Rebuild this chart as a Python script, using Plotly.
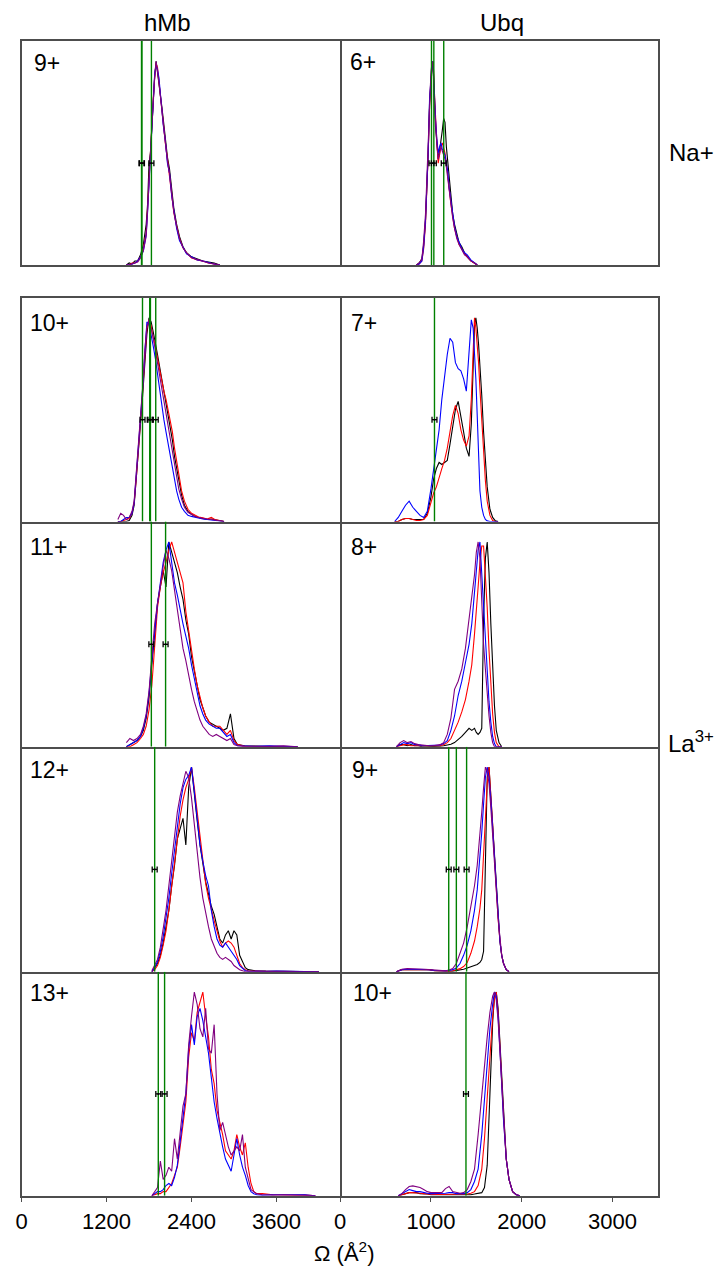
import plotly.graph_objects as go

# ---------------------------------------------------------------------------
# CCS distributions (normalised intensity) for hMb and Ubq charge states.
# Each panel shares one Omega grid (Å^2) between its traces.
# ---------------------------------------------------------------------------

# hMb 9+ (Na+)
HMB9_OMEGA = [1480, 1520, 1560, 1600, 1640, 1680, 1720, 1760, 1780, 1800, 1820, 1840,
              1860, 1880, 1900, 1920, 1940, 1960, 1980, 2000, 2030, 2060, 2090, 2120,
              2150, 2190, 2230, 2280, 2330, 2400, 2480, 2560, 2640, 2720, 2800]
HMB9_BLACK = [0, 0.01, 0.005, 0.02, 0.02, 0.05, 0.1, 0.2, 0.3, 0.5, 0.55, 0.7,
              0.85, 0.93, 1.0, 0.95, 0.9, 0.85, 0.78, 0.72, 0.62, 0.53, 0.47, 0.38,
              0.28, 0.2, 0.14, 0.09, 0.06, 0.04, 0.03, 0.02, 0.015, 0.01, 0]
HMB9_RED = [0, 0, 0.01, 0.01, 0.02, 0.04, 0.08, 0.16, 0.28, 0.42, 0.58, 0.68,
            0.82, 0.92, 0.99, 0.97, 0.9, 0.84, 0.76, 0.7, 0.6, 0.52, 0.44, 0.35,
            0.26, 0.19, 0.13, 0.085, 0.06, 0.035, 0.025, 0.02, 0.01, 0.005, 0]
HMB9_BLUE = [0, 0, 0.005, 0.01, 0.02, 0.04, 0.07, 0.15, 0.26, 0.4, 0.56, 0.7,
             0.8, 0.94, 0.98, 0.96, 0.92, 0.82, 0.77, 0.69, 0.61, 0.5, 0.45, 0.34,
             0.27, 0.18, 0.12, 0.09, 0.055, 0.04, 0.025, 0.02, 0.012, 0.005, 0]
HMB9_PURPLE = [0, 0, 0.005, 0.01, 0.015, 0.035, 0.07, 0.14, 0.25, 0.4, 0.55, 0.68,
               0.83, 0.92, 1.0, 0.96, 0.9, 0.83, 0.76, 0.7, 0.6, 0.51, 0.45, 0.35,
               0.26, 0.19, 0.13, 0.085, 0.06, 0.035, 0.025, 0.018, 0.01, 0.005, 0]
HMB9_REF = [1694, 1700, 1834]

# Ubq 6+ (Na+)
UBQ6_OMEGA = [840, 870, 900, 920, 940, 955, 970, 985, 1000, 1015, 1025, 1035,
              1050, 1065, 1080, 1095, 1110, 1125, 1140, 1155, 1170, 1185, 1200, 1220,
              1240, 1260, 1285, 1310, 1340, 1370, 1400, 1440, 1480, 1510]
UBQ6_BLACK = [0, 0.01, 0.03, 0.1, 0.22, 0.38, 0.55, 0.8, 0.9, 0.98, 1.0, 0.86,
              0.68, 0.6, 0.52, 0.56, 0.6, 0.66, 0.72, 0.7, 0.58, 0.5, 0.42, 0.33,
              0.25, 0.2, 0.15, 0.11, 0.09, 0.06, 0.04, 0.02, 0.01, 0]
UBQ6_RED = [0, 0.005, 0.02, 0.08, 0.2, 0.36, 0.55, 0.78, 0.92, 0.97, 0.99, 0.88,
            0.7, 0.6, 0.5, 0.55, 0.58, 0.6, 0.58, 0.55, 0.5, 0.45, 0.38, 0.3,
            0.24, 0.18, 0.14, 0.1, 0.08, 0.055, 0.04, 0.02, 0.008, 0]
UBQ6_BLUE = [0, 0.005, 0.02, 0.09, 0.22, 0.38, 0.56, 0.82, 0.94, 1.0, 0.97, 0.85,
             0.72, 0.62, 0.55, 0.58, 0.6, 0.57, 0.55, 0.54, 0.5, 0.46, 0.38, 0.31,
             0.24, 0.19, 0.14, 0.11, 0.08, 0.06, 0.05, 0.025, 0.01, 0]
UBQ6_PURPLE = [0, 0.01, 0.03, 0.12, 0.25, 0.42, 0.6, 0.84, 0.95, 1.0, 0.96, 0.82,
               0.68, 0.6, 0.52, 0.55, 0.58, 0.56, 0.54, 0.52, 0.48, 0.42, 0.36, 0.3,
               0.23, 0.18, 0.13, 0.1, 0.075, 0.05, 0.04, 0.02, 0.01, 0]
UBQ6_REF = [1006, 1032, 1141]

# hMb 10+ (La3+)
HMB10_OMEGA = [1360, 1400, 1440, 1480, 1520, 1560, 1590, 1620, 1650, 1680, 1710, 1740,
               1770, 1800, 1830, 1860, 1890, 1920, 1950, 1980, 2010, 2040, 2070, 2100,
               2130, 2160, 2190, 2220, 2260, 2300, 2350, 2400, 2450, 2500, 2560, 2620,
               2680, 2740, 2800, 2860]
HMB10_BLACK = [0, 0, 0, 0, 0.005, 0.03, 0.08, 0.2, 0.33, 0.48, 0.62, 0.78,
               0.92, 1.0, 0.98, 0.93, 0.88, 0.82, 0.76, 0.7, 0.66, 0.58, 0.52, 0.47,
               0.4, 0.32, 0.26, 0.19, 0.13, 0.08, 0.05, 0.035, 0.025, 0.02, 0.015, 0.01,
               0.012, 0.008, 0.005, 0]
HMB10_RED = [0, 0, 0.005, 0.01, 0.015, 0.04, 0.09, 0.21, 0.34, 0.5, 0.64, 0.8,
             0.95, 0.99, 0.96, 0.9, 0.86, 0.8, 0.74, 0.68, 0.64, 0.6, 0.55, 0.5,
             0.44, 0.36, 0.3, 0.22, 0.15, 0.1, 0.06, 0.04, 0.03, 0.022, 0.018, 0.012,
             0.02, 0.008, 0.005, 0]
HMB10_BLUE = [0, 0, 0.01, 0.02, 0.02, 0.04, 0.09, 0.22, 0.35, 0.5, 0.65, 0.82,
              0.98, 0.97, 0.92, 0.86, 0.8, 0.72, 0.64, 0.56, 0.5, 0.44, 0.38, 0.32,
              0.26, 0.2, 0.15, 0.11, 0.07, 0.05, 0.03, 0.025, 0.02, 0.015, 0.012, 0.01,
              0.008, 0.005, 0.003, 0]
HMB10_PURPLE = [0.01, 0.04, 0.03, 0.01, 0.02, 0.05, 0.1, 0.23, 0.36, 0.52, 0.66, 0.84,
                0.96, 0.99, 0.95, 0.9, 0.84, 0.78, 0.7, 0.64, 0.58, 0.52, 0.47, 0.42,
                0.35, 0.28, 0.22, 0.16, 0.11, 0.07, 0.045, 0.035, 0.025, 0.02, 0.015, 0.012,
                0.01, 0.006, 0.004, 0]
HMB10_REF = [1708, 1810, 1820, 1895]

# Ubq 7+ (La3+), no purple trace
UBQ7_OMEGA = [600, 640, 680, 720, 760, 800, 840, 880, 920, 960, 1000, 1030,
              1060, 1090, 1120, 1150, 1180, 1210, 1240, 1270, 1300, 1330, 1360, 1390,
              1420, 1445, 1465, 1480, 1495, 1510, 1525, 1540, 1560, 1580, 1600, 1620,
              1650, 1680, 1710, 1740]
UBQ7_BLACK = [0, 0, 0.01, 0.015, 0.015, 0.01, 0.01, 0.01, 0.01, 0.04, 0.12, 0.21,
              0.26, 0.29, 0.28, 0.29, 0.3, 0.38, 0.46, 0.55, 0.59, 0.52, 0.44, 0.36,
              0.32, 0.48, 0.8, 0.96, 1.0, 0.95, 0.87, 0.77, 0.62, 0.44, 0.3, 0.17,
              0.06, 0.02, 0.003, 0]
UBQ7_RED = [0, 0, 0.01, 0.015, 0.015, 0.01, 0.005, 0.005, 0.01, 0.03, 0.1, 0.14,
            0.17, 0.22, 0.26, 0.3, 0.36, 0.44, 0.52, 0.57, 0.53, 0.45, 0.4, 0.37,
            0.42, 0.6, 0.88, 1.0, 0.95, 0.88, 0.78, 0.65, 0.5, 0.33, 0.2, 0.1,
            0.03, 0.005, 0, 0]
UBQ7_BLUE = [0, 0.02, 0.05, 0.08, 0.1, 0.07, 0.05, 0.03, 0.02, 0.05, 0.16, 0.26,
             0.34, 0.45, 0.6, 0.72, 0.82, 0.9, 0.88, 0.78, 0.75, 0.74, 0.7, 0.64,
             0.82, 0.99, 0.95, 0.85, 0.7, 0.52, 0.3, 0.15, 0.07, 0.03, 0.01, 0.003,
             0, 0, 0, 0]
UBQ7_REF = [1039]

# hMb 11+ (La3+)
HMB11_OMEGA = [1480, 1530, 1580, 1630, 1680, 1720, 1760, 1800, 1840, 1880, 1920, 1960,
               2000, 2040, 2080, 2120, 2160, 2200, 2240, 2280, 2320, 2360, 2400, 2440,
               2480, 2520, 2560, 2600, 2650, 2700, 2750, 2800, 2850, 2900, 2950, 3000,
               3050, 3150, 3300, 3500, 3700, 3900]
HMB11_BLACK = [0, 0.01, 0.02, 0.03, 0.05, 0.08, 0.14, 0.24, 0.4, 0.55, 0.7, 0.78,
               0.86, 0.78, 1.0, 0.95, 0.9, 0.85, 0.78, 0.72, 0.62, 0.55, 0.44, 0.37,
               0.3, 0.23, 0.19, 0.15, 0.12, 0.11, 0.1, 0.09, 0.08, 0.09, 0.16, 0.04,
               0.01, 0.005, 0.003, 0.002, 0, 0]
HMB11_RED = [0, 0, 0.01, 0.02, 0.04, 0.06, 0.1, 0.18, 0.3, 0.5, 0.68, 0.78,
             0.85, 0.9, 0.96, 1.0, 0.95, 0.9, 0.85, 0.8, 0.66, 0.56, 0.46, 0.38,
             0.3, 0.24, 0.19, 0.15, 0.12, 0.1, 0.1, 0.1, 0.08, 0.06, 0.08, 0.03,
             0.01, 0.003, 0.002, 0.002, 0, 0]
HMB11_BLUE = [0, 0.01, 0.02, 0.03, 0.05, 0.09, 0.15, 0.26, 0.42, 0.58, 0.7, 0.8,
              0.9, 0.96, 1.0, 0.9, 0.8, 0.74, 0.66, 0.6, 0.54, 0.48, 0.4, 0.33,
              0.26, 0.2, 0.16, 0.13, 0.11, 0.1, 0.09, 0.09, 0.07, 0.05, 0.06, 0.02,
              0.005, 0.003, 0.002, 0.004, 0.002, 0]
HMB11_PURPLE = [0.02, 0.04, 0.03, 0.04, 0.06, 0.1, 0.16, 0.27, 0.44, 0.6, 0.7, 0.8,
                0.88, 0.96, 0.92, 0.86, 0.76, 0.68, 0.58, 0.48, 0.42, 0.34, 0.28, 0.22,
                0.17, 0.13, 0.1, 0.08, 0.06, 0.05, 0.06, 0.05, 0.04, 0.03, 0.04, 0.01,
                0.005, 0, 0, 0.003, 0.004, 0]
HMB11_REF = [1833, 2034]

# Ubq 8+ (La3+)
UBQ8_OMEGA = [620, 660, 700, 740, 780, 820, 860, 900, 940, 980, 1020, 1060,
              1100, 1140, 1180, 1220, 1260, 1300, 1340, 1380, 1420, 1450, 1480, 1500,
              1520, 1540, 1560, 1580, 1600, 1620, 1640, 1660, 1680, 1700, 1720, 1750,
              1780]
UBQ8_BLACK = [0, 0.01, 0.01, 0.005, 0.01, 0.005, 0.005, 0, 0, 0, 0, 0,
              0.002, 0.005, 0.008, 0.012, 0.02, 0.035, 0.05, 0.07, 0.09, 0.08, 0.09, 0.07,
              0.06, 0.07, 0.09, 0.62, 0.92, 1.0, 0.85, 0.6, 0.38, 0.2, 0.08, 0.02,
              0]
UBQ8_RED = [0, 0.005, 0.01, 0.01, 0.005, 0.005, 0.005, 0.002, 0.002, 0.002, 0.002, 0.003,
            0.005, 0.01, 0.02, 0.04, 0.08, 0.12, 0.17, 0.23, 0.32, 0.4, 0.55, 0.65,
            0.78, 0.9, 0.98, 0.98, 0.85, 0.68, 0.47, 0.3, 0.16, 0.07, 0.02, 0,
            0]
UBQ8_BLUE = [0, 0.01, 0.02, 0.015, 0.02, 0.01, 0.01, 0.005, 0.005, 0.005, 0.005, 0.005,
             0.008, 0.015, 0.03, 0.08, 0.15, 0.25, 0.32, 0.41, 0.5, 0.6, 0.74, 0.86,
             0.96, 1.0, 0.85, 0.65, 0.5, 0.35, 0.22, 0.12, 0.05, 0.015, 0, 0,
             0]
UBQ8_PURPLE = [0, 0.02, 0.03, 0.02, 0.025, 0.015, 0.01, 0.008, 0.005, 0.005, 0.005, 0.006,
               0.01, 0.02, 0.06, 0.14, 0.28, 0.32, 0.38, 0.48, 0.62, 0.72, 0.84, 0.95,
               1.0, 0.92, 0.7, 0.5, 0.38, 0.25, 0.15, 0.07, 0.02, 0, 0, 0,
               0]
UBQ8_REF = []

# hMb 12+ (La3+)
HMB12_OMEGA = [1840, 1880, 1920, 1960, 2000, 2040, 2080, 2120, 2160, 2200, 2240, 2280,
               2320, 2360, 2400, 2440, 2480, 2520, 2560, 2600, 2640, 2680, 2720, 2760,
               2800, 2840, 2880, 2920, 2960, 3000, 3040, 3080, 3120, 3160, 3200, 3300,
               3450, 3600, 3750, 3900, 4050, 4200]
HMB12_BLACK = [0, 0.02, 0.04, 0.08, 0.14, 0.22, 0.3, 0.42, 0.52, 0.65, 0.7, 0.75,
               0.62, 0.9, 1.0, 0.86, 0.74, 0.62, 0.52, 0.44, 0.38, 0.32, 0.28, 0.22,
               0.16, 0.14, 0.18, 0.2, 0.16, 0.2, 0.18, 0.08, 0.05, 0.02, 0.01, 0.005,
               0.003, 0.002, 0.003, 0.002, 0.002, 0]
HMB12_RED = [0, 0.01, 0.03, 0.07, 0.13, 0.2, 0.3, 0.42, 0.54, 0.66, 0.76, 0.84,
             0.9, 0.94, 1.0, 0.9, 0.78, 0.64, 0.52, 0.43, 0.36, 0.3, 0.25, 0.2,
             0.15, 0.12, 0.14, 0.15, 0.14, 0.12, 0.08, 0.04, 0.02, 0.01, 0.005, 0.003,
             0.002, 0.002, 0.002, 0, 0, 0]
HMB12_BLUE = [0, 0.02, 0.05, 0.1, 0.17, 0.26, 0.36, 0.48, 0.6, 0.72, 0.82, 0.9,
              0.94, 0.96, 1.0, 0.88, 0.74, 0.62, 0.54, 0.47, 0.42, 0.3, 0.22, 0.16,
              0.13, 0.12, 0.14, 0.12, 0.1, 0.08, 0.06, 0.03, 0.015, 0.005, 0.003, 0.002,
              0.002, 0.003, 0.002, 0.003, 0.002, 0]
HMB12_PURPLE = [0.005, 0.03, 0.06, 0.12, 0.2, 0.3, 0.42, 0.55, 0.68, 0.78, 0.86, 0.92,
                0.98, 0.95, 0.85, 0.72, 0.58, 0.46, 0.36, 0.28, 0.22, 0.16, 0.12, 0.09,
                0.07, 0.06, 0.07, 0.06, 0.05, 0.03, 0.02, 0.01, 0.005, 0, 0, 0,
                0, 0, 0, 0, 0, 0]
HMB12_REF = [1880]

# Ubq 9+ (La3+)
UBQ9_OMEGA = [620, 680, 740, 800, 860, 920, 980, 1040, 1100, 1160, 1200, 1240,
              1280, 1320, 1360, 1400, 1440, 1480, 1510, 1540, 1560, 1580, 1600, 1620,
              1640, 1660, 1680, 1700, 1720, 1740, 1760, 1780, 1800, 1830, 1860]
UBQ9_BLACK = [0, 0.01, 0.01, 0.01, 0.01, 0.01, 0.01, 0.005, 0.003, 0.002, 0.002, 0.003,
              0.005, 0.008, 0.012, 0.018, 0.025, 0.03, 0.035, 0.045, 0.06, 0.1, 0.6, 0.95,
              1.0, 0.85, 0.7, 0.55, 0.4, 0.26, 0.15, 0.08, 0.04, 0.01, 0]
UBQ9_RED = [0, 0.01, 0.01, 0.01, 0.01, 0.01, 0.01, 0.005, 0.003, 0.002, 0.003, 0.005,
            0.01, 0.015, 0.025, 0.045, 0.09, 0.15, 0.22, 0.31, 0.4, 0.56, 0.75, 0.92,
            1.0, 0.88, 0.72, 0.56, 0.4, 0.26, 0.15, 0.08, 0.04, 0.01, 0]
UBQ9_BLUE = [0, 0.01, 0.012, 0.012, 0.01, 0.01, 0.01, 0.006, 0.004, 0.004, 0.006, 0.01,
             0.018, 0.04, 0.08, 0.13, 0.2, 0.3, 0.4, 0.56, 0.68, 0.82, 0.95, 1.0,
             0.95, 0.84, 0.7, 0.55, 0.4, 0.26, 0.15, 0.08, 0.04, 0.01, 0]
UBQ9_PURPLE = [0, 0.012, 0.015, 0.015, 0.012, 0.012, 0.01, 0.008, 0.005, 0.005, 0.008, 0.015,
               0.04, 0.09, 0.14, 0.22, 0.32, 0.42, 0.52, 0.66, 0.78, 0.9, 1.0, 0.98,
               0.92, 0.8, 0.68, 0.54, 0.4, 0.26, 0.15, 0.08, 0.04, 0.01, 0]
UBQ9_REF = [1196, 1280, 1393]

# hMb 13+ (La3+), no black trace
HMB13_OMEGA = [1840, 1880, 1920, 1960, 2000, 2040, 2080, 2120, 2160, 2200, 2240, 2280,
               2320, 2360, 2400, 2440, 2480, 2520, 2560, 2600, 2640, 2680, 2720, 2760,
               2800, 2840, 2880, 2920, 2960, 3000, 3040, 3080, 3120, 3160, 3200, 3240,
               3280, 3320, 3400, 3550, 3700, 3850, 4000, 4150]
HMB13_RED = [0, 0.005, 0.01, 0.01, 0.02, 0.02, 0.04, 0.06, 0.1, 0.14, 0.24, 0.36,
             0.46, 0.68, 0.8, 0.76, 0.9, 0.95, 1.0, 0.88, 0.78, 0.62, 0.55, 0.42,
             0.36, 0.3, 0.22, 0.2, 0.18, 0.22, 0.3, 0.24, 0.2, 0.26, 0.14, 0.06,
             0.02, 0.01, 0.01, 0.005, 0.003, 0.003, 0.004, 0]
HMB13_BLUE = [0, 0.01, 0.02, 0.02, 0.03, 0.05, 0.06, 0.05, 0.09, 0.15, 0.26, 0.38,
              0.5, 0.72, 0.84, 0.74, 0.88, 0.92, 0.86, 0.78, 0.7, 0.58, 0.46, 0.38,
              0.3, 0.24, 0.18, 0.15, 0.12, 0.2, 0.28, 0.2, 0.14, 0.1, 0.05, 0.02,
              0.01, 0.005, 0.003, 0.005, 0.004, 0.003, 0.005, 0]
HMB13_PURPLE = [0, 0.02, 0.04, 0.17, 0.08, 0.1, 0.14, 0.12, 0.28, 0.18, 0.3, 0.44,
                0.5, 0.74, 0.88, 1.0, 0.94, 0.82, 0.78, 0.92, 0.72, 0.7, 0.84, 0.5,
                0.32, 0.36, 0.3, 0.24, 0.2, 0.22, 0.24, 0.22, 0.3, 0.14, 0.08, 0.03,
                0.02, 0.01, 0.005, 0.003, 0.005, 0.004, 0.003, 0]
HMB13_REF = [1931, 2020]

# Ubq 10+ (La3+)
UBQ10_OMEGA = [640, 680, 720, 760, 800, 840, 880, 920, 960, 1000, 1040, 1080,
               1120, 1160, 1200, 1240, 1280, 1320, 1360, 1400, 1440, 1480, 1520, 1560,
               1590, 1620, 1650, 1680, 1700, 1720, 1740, 1760, 1780, 1800, 1830, 1860,
               1900, 1940, 1980]
UBQ10_BLACK = [0, 0.005, 0.01, 0.015, 0.015, 0.015, 0.01, 0.01, 0.008, 0.005, 0.005, 0.005,
               0.005, 0.005, 0.005, 0.005, 0.003, 0.003, 0.003, 0.003, 0.005, 0.008, 0.01, 0.015,
               0.04, 0.15, 0.5, 0.85, 0.98, 1.0, 0.92, 0.75, 0.55, 0.38, 0.18, 0.08,
               0.02, 0.005, 0]
UBQ10_RED = [0, 0.005, 0.01, 0.015, 0.015, 0.015, 0.012, 0.01, 0.008, 0.006, 0.006, 0.006,
             0.006, 0.006, 0.008, 0.008, 0.006, 0.006, 0.006, 0.008, 0.012, 0.02, 0.05, 0.13,
             0.28, 0.46, 0.68, 0.88, 0.97, 1.0, 0.9, 0.74, 0.55, 0.38, 0.18, 0.08,
             0.02, 0.005, 0]
UBQ10_BLUE = [0, 0.01, 0.02, 0.03, 0.025, 0.02, 0.02, 0.015, 0.012, 0.01, 0.01, 0.01,
              0.01, 0.012, 0.015, 0.015, 0.01, 0.01, 0.01, 0.015, 0.03, 0.07, 0.13, 0.3,
              0.48, 0.66, 0.82, 0.94, 1.0, 0.98, 0.88, 0.72, 0.54, 0.37, 0.18, 0.08,
              0.02, 0.005, 0]
UBQ10_PURPLE = [0, 0.01, 0.03, 0.045, 0.048, 0.045, 0.04, 0.03, 0.02, 0.015, 0.015, 0.012,
                0.015, 0.035, 0.045, 0.02, 0.015, 0.012, 0.015, 0.03, 0.07, 0.13, 0.3, 0.5,
                0.64, 0.78, 0.9, 0.98, 1.0, 0.96, 0.86, 0.7, 0.53, 0.37, 0.18, 0.08,
                0.02, 0.005, 0]
UBQ10_REF = [1386]

# Axis ticks and text
HMB_TICKS = [0, 1200, 2400, 3600]
UBQ_TICKS = [0, 1000, 2000, 3000]
COLUMN_TITLES = ["hMb", "Ubq"]
CHARGE_LABELS = ["9+", "6+", "10+", "7+", "11+", "8+", "12+", "9+", "13+", "10+"]
ION_LABELS = ["Na+", "La<sup>3+</sup>"]

# ---------------------------------------------------------------------------
# Figure assembly
# ---------------------------------------------------------------------------
W, H = 719, 1272
COLORS = {"black": "#000000", "red": "#ff0000", "blue": "#0000ff", "purple": "#800080"}
FONT = "Liberation Sans, Arial, sans-serif"
FRAME = "#4d4d4d"

panels = [
    (HMB9_OMEGA, {"black": HMB9_BLACK, "red": HMB9_RED, "blue": HMB9_BLUE, "purple": HMB9_PURPLE}, HMB9_REF),
    (UBQ6_OMEGA, {"black": UBQ6_BLACK, "red": UBQ6_RED, "blue": UBQ6_BLUE, "purple": UBQ6_PURPLE}, UBQ6_REF),
    (HMB10_OMEGA, {"black": HMB10_BLACK, "red": HMB10_RED, "blue": HMB10_BLUE, "purple": HMB10_PURPLE}, HMB10_REF),
    (UBQ7_OMEGA, {"black": UBQ7_BLACK, "red": UBQ7_RED, "blue": UBQ7_BLUE}, UBQ7_REF),
    (HMB11_OMEGA, {"black": HMB11_BLACK, "red": HMB11_RED, "blue": HMB11_BLUE, "purple": HMB11_PURPLE}, HMB11_REF),
    (UBQ8_OMEGA, {"black": UBQ8_BLACK, "red": UBQ8_RED, "blue": UBQ8_BLUE, "purple": UBQ8_PURPLE}, UBQ8_REF),
    (HMB12_OMEGA, {"black": HMB12_BLACK, "red": HMB12_RED, "blue": HMB12_BLUE, "purple": HMB12_PURPLE}, HMB12_REF),
    (UBQ9_OMEGA, {"black": UBQ9_BLACK, "red": UBQ9_RED, "blue": UBQ9_BLUE, "purple": UBQ9_PURPLE}, UBQ9_REF),
    (HMB13_OMEGA, {"red": HMB13_RED, "blue": HMB13_BLUE, "purple": HMB13_PURPLE}, HMB13_REF),
    (UBQ10_OMEGA, {"black": UBQ10_BLACK, "red": UBQ10_RED, "blue": UBQ10_BLUE, "purple": UBQ10_PURPLE}, UBQ10_REF),
]

# plot-area geometry in pixels
COL_X = [(15.7, 337.0), (337.0, 657.3)]
ROW_Y = [(41.0, 265.0), (297.5, 521.5), (521.5, 746.7), (746.7, 971.7), (971.7, 1195.7)]
X_RANGE = [[0, 4500], [0, 3500]]
TICKS = [HMB_TICKS, UBQ_TICKS]
ERR_HALF = [35, 27]
Y_MAX = 1.1


def fx(px):
    return px / W


def fy(py):
    return 1 - py / H


fig = go.Figure()
layout_axes = {}

for i, (omega, series, refs) in enumerate(panels):
    r, c = divmod(i, 2)
    n = i + 1
    xa = "x" if n == 1 else f"x{n}"
    ya = "y" if n == 1 else f"y{n}"

    for name, vals in series.items():
        if len(vals) != len(omega):
            raise ValueError(f"panel {n} {name}: {len(vals)} vs {len(omega)}")
        fig.add_trace(go.Scatter(
            x=omega, y=vals, mode="lines", xaxis=xa, yaxis=ya,
            line=dict(color=COLORS[name], width=1.1),
            showlegend=False, hoverinfo="skip"))

    if refs:
        gx, gy = [], []
        for v in refs:
            gx += [v, v, None]
            gy += [0, Y_MAX, None]
        fig.add_trace(go.Scatter(
            x=gx, y=gy, mode="lines", xaxis=xa, yaxis=ya,
            line=dict(color="#008000", width=1.4),
            showlegend=False, hoverinfo="skip"))
        fig.add_trace(go.Scatter(
            x=refs, y=[0.5] * len(refs), mode="markers", xaxis=xa, yaxis=ya,
            marker=dict(color="black", size=2),
            error_x=dict(type="constant", value=ERR_HALF[c], color="black",
                         thickness=1.3, width=3),
            showlegend=False, hoverinfo="skip"))

    bottom = r == 4
    block_top = r in (0, 1)          # panels with no frame directly above them
    x0, x1 = COL_X[c]
    yt, yb = ROW_Y[r]
    layout_axes["xaxis" if n == 1 else f"xaxis{n}"] = dict(
        domain=[fx(x0), fx(x1)], range=X_RANGE[c], anchor=ya,
        showline=True, mirror=block_top, linecolor=FRAME, linewidth=1.5,
        showgrid=False, zeroline=False,
        ticks="outside" if bottom else "", ticklen=5, tickwidth=1.3, tickcolor=FRAME,
        tickvals=TICKS[c], showticklabels=bottom,
        tickfont=dict(family=FONT, size=22, color="black"),
    )
    # left column draws both vertical edges, right column only its outer edge
    layout_axes["yaxis" if n == 1 else f"yaxis{n}"] = dict(
        domain=[fy(yb), fy(yt)], range=[0, Y_MAX], anchor=xa,
        side="left" if c == 0 else "right",
        showline=True, mirror=(c == 0), linecolor=FRAME, linewidth=1.5,
        showgrid=False, zeroline=False, ticks="", showticklabels=False,
    )

annotations = []
# column titles
for text, cx in zip(COLUMN_TITLES, [163.0, 500.0]):
    annotations.append(dict(text=text, x=fx(cx), y=fy(22), xref="paper", yref="paper",
                            xanchor="center", yanchor="middle", showarrow=False,
                            font=dict(family=FONT, size=24, color="black")))
# charge-state labels
LABEL_POS = [(26, 62.5), (345, 62), (22, 323), (346, 323), (22, 547), (346, 547),
             (22, 770), (347, 770), (22, 993), (348, 993)]
for text, (lx, ly) in zip(CHARGE_LABELS, LABEL_POS):
    annotations.append(dict(text=text, x=fx(lx), y=fy(ly), xref="paper", yref="paper",
                            xanchor="left", yanchor="middle", showarrow=False,
                            font=dict(family=FONT, size=23, color="black")))
# ion labels on the right
for text, (lx, ly) in zip(ION_LABELS, [(667, 152.5), (666, 742)]):
    annotations.append(dict(text=text, x=fx(lx), y=fy(ly), xref="paper", yref="paper",
                            xanchor="left", yanchor="middle", showarrow=False,
                            font=dict(family=FONT, size=24, color="black")))
# shared x-axis title
annotations.append(dict(text="Ω (Å<sup>2</sup>)", x=fx(341), y=fy(1252), xref="paper",
                        yref="paper", xanchor="center", yanchor="middle", showarrow=False,
                        font=dict(family=FONT, size=22, color="black")))

fig.update_layout(
    width=W, height=H,
    margin=dict(l=0, r=0, t=0, b=0),
    paper_bgcolor="white", plot_bgcolor="white",
    annotations=annotations,
    **layout_axes,
)

fig.write_html("out.html")
